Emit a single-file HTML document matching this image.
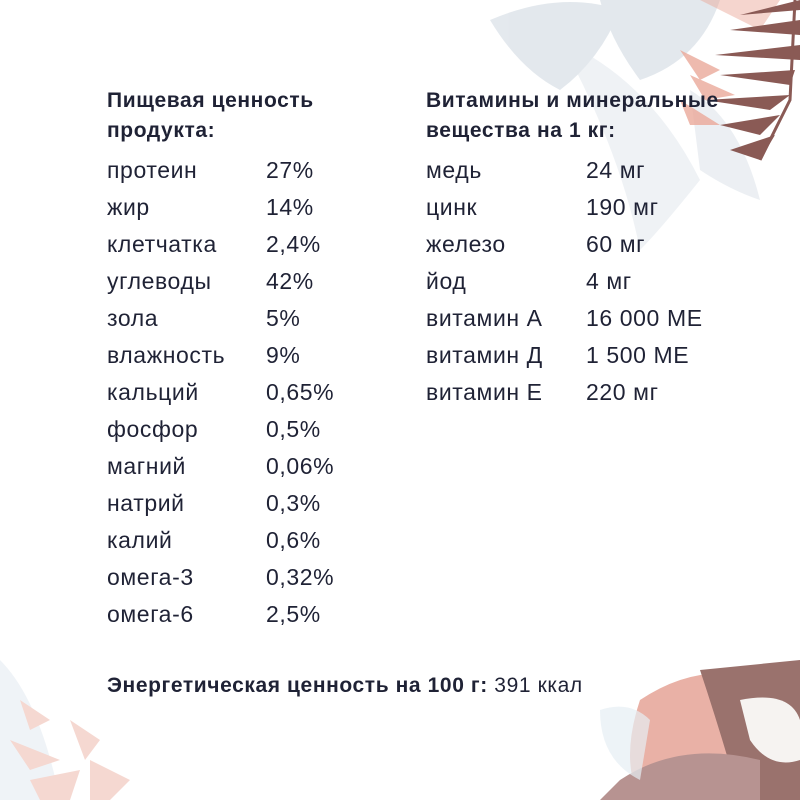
<!DOCTYPE html>
<html><head><meta charset="utf-8"><style>
html,body{margin:0;padding:0}
body{width:800px;height:800px;position:relative;background:#fff;overflow:hidden;font-family:"Liberation Sans",sans-serif;color:#1f2235}
svg{position:absolute;left:0;top:0}
.h{position:absolute;font-weight:bold;font-size:21px;line-height:30px;letter-spacing:0.6px}
.r{position:absolute;font-size:23px;line-height:24px;white-space:nowrap;letter-spacing:0.6px}
</style></head><body>
<svg width="800" height="800">
<g opacity="0.5" fill="#c9d3dd">
<path d="M490 20 Q560 -10 620 10 Q600 60 560 90 Q520 70 490 20Z"/>
<path d="M600 0 L720 0 Q700 60 640 80 Q610 40 600 0Z"/>
<path d="M560 40 Q650 80 700 180 Q660 230 640 250 Q620 150 560 40Z" opacity="0.6"/>
<path d="M690 90 Q740 120 760 200 Q730 190 700 170Z" opacity="0.7"/>
</g>
<g fill="#eba99a" opacity="0.8">
<path d="M680 50 L720 70 L700 80Z"/><path d="M690 75 L735 95 L705 100Z"/><path d="M680 100 L720 125 L690 125Z"/>
<path d="M700 0 L780 0 L760 30Z" opacity="0.6"/>
</g>
<g fill="#8a5a55">
<path d="M740 15 L800 0 L800 10Z"/><path d="M730 30 L800 20 L800 35Z"/><path d="M715 55 L800 45 L800 60Z"/><path d="M720 75 L795 70 L790 85Z"/><path d="M705 100 L790 95 L770 110Z"/><path d="M720 125 L780 115 L760 135Z"/><path d="M730 150 L775 135 L760 160Z"/>
<path d="M795 0 L790 100 L760 160" stroke="#8a5a55" stroke-width="3" fill="none"/>
</g>
<g opacity="0.45">
<path d="M0 660 Q40 700 60 800 L0 800Z" fill="#dde6ee"/>
<path d="M20 700 L50 720 L30 730Z M10 740 L60 760 L30 770Z M30 780 L80 770 L70 800 L40 800Z M70 720 L100 740 L85 760Z M90 760 L130 780 L110 800 L90 800Z" fill="#eba99a"/>
</g>
<path d="M640 700 Q700 660 760 680 L800 700 L800 800 L640 800 Q620 760 640 700Z" fill="#e9b1a6"/>
<path d="M700 670 L800 660 L800 800 L740 800 Q720 730 700 670Z" fill="#9a726d"/>
<path d="M620 780 Q680 740 760 760 L760 800 L600 800Z" fill="#b79391"/>
<path d="M740 700 Q790 690 800 720 L800 760 Q770 770 750 740Z" fill="#f6f3f1"/>
<path d="M600 710 Q630 700 650 720 L640 780 Q600 760 600 710Z" fill="#e6eef3" opacity="0.7"/>
</svg>
<div class="h" style="left:107px;top:86px">Пищевая ценность<br>продукта:</div>
<div class="h" style="left:426px;top:86px">Витамины и минеральные<br>вещества на 1 кг:</div>
<div class="r" style="left:107px;top:158px">протеин</div><div class="r" style="left:266px;top:158px">27%</div>
<div class="r" style="left:107px;top:195px">жир</div><div class="r" style="left:266px;top:195px">14%</div>
<div class="r" style="left:107px;top:232px">клетчатка</div><div class="r" style="left:266px;top:232px">2,4%</div>
<div class="r" style="left:107px;top:269px">углеводы</div><div class="r" style="left:266px;top:269px">42%</div>
<div class="r" style="left:107px;top:306px">зола</div><div class="r" style="left:266px;top:306px">5%</div>
<div class="r" style="left:107px;top:343px">влажность</div><div class="r" style="left:266px;top:343px">9%</div>
<div class="r" style="left:107px;top:380px">кальций</div><div class="r" style="left:266px;top:380px">0,65%</div>
<div class="r" style="left:107px;top:417px">фосфор</div><div class="r" style="left:266px;top:417px">0,5%</div>
<div class="r" style="left:107px;top:454px">магний</div><div class="r" style="left:266px;top:454px">0,06%</div>
<div class="r" style="left:107px;top:491px">натрий</div><div class="r" style="left:266px;top:491px">0,3%</div>
<div class="r" style="left:107px;top:528px">калий</div><div class="r" style="left:266px;top:528px">0,6%</div>
<div class="r" style="left:107px;top:565px">омега-3</div><div class="r" style="left:266px;top:565px">0,32%</div>
<div class="r" style="left:107px;top:602px">омега-6</div><div class="r" style="left:266px;top:602px">2,5%</div>
<div class="r" style="left:426px;top:158px">медь</div><div class="r" style="left:586px;top:158px">24 мг</div>
<div class="r" style="left:426px;top:195px">цинк</div><div class="r" style="left:586px;top:195px">190 мг</div>
<div class="r" style="left:426px;top:232px">железо</div><div class="r" style="left:586px;top:232px">60 мг</div>
<div class="r" style="left:426px;top:269px">йод</div><div class="r" style="left:586px;top:269px">4 мг</div>
<div class="r" style="left:426px;top:306px">витамин А</div><div class="r" style="left:586px;top:306px">16 000 МЕ</div>
<div class="r" style="left:426px;top:343px">витамин Д</div><div class="r" style="left:586px;top:343px">1 500 МЕ</div>
<div class="r" style="left:426px;top:380px">витамин Е</div><div class="r" style="left:586px;top:380px">220 мг</div>
<div class="r" style="left:107px;top:674px;font-size:21px;letter-spacing:0.6px"><b>Энергетическая ценность на 100 г:</b> 391 ккал</div>
</body></html>
